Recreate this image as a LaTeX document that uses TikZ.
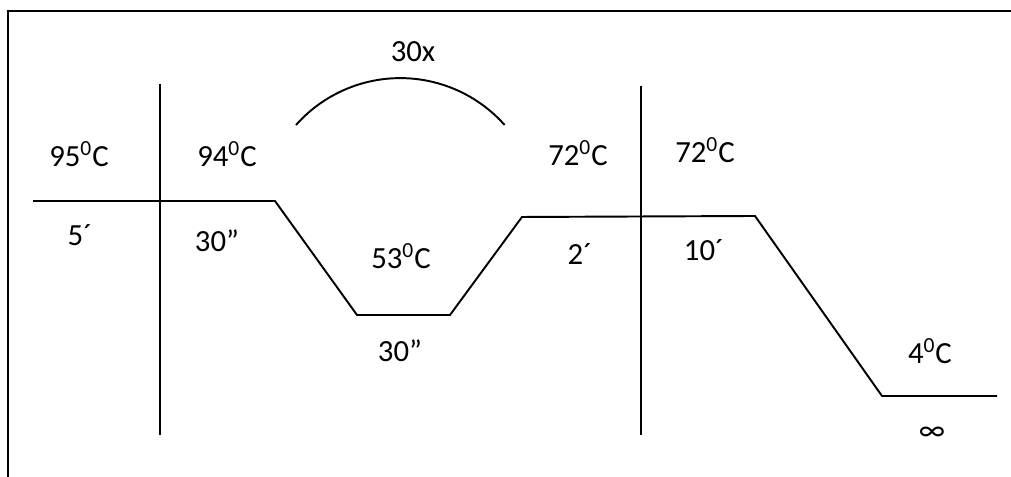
\documentclass[tikz,border=0pt]{standalone}
\usepackage{fontspec}
\setmainfont{Carlito}
\usepackage{tikz}
\usetikzlibrary{calc}
\tikzset{
	labeltext/.style={font=\fontsize{17.5}{21}\selectfont, anchor=base, inner sep=0pt}
}
\tikzset{
	profileline/.style={line width=1.1pt, line join=miter}
}
\newcommand{\degc}[1]{#1\textsuperscript{0}C}

\begin{document}
\begin{tikzpicture}
      \useasboundingbox (0,0) rectangle (20.22,9.54);
      % frame, only top and left edge inside the page
      \draw[line width=1.1pt] (0.16,-0.2) -- (0.16,9.32) -- (20.6,9.32);

      % temperature profile
      \coordinate (p0) at (0.66,5.52);
      \coordinate (p1) at (5.50,5.52);
      \coordinate (p2) at (7.14,3.24);
      \coordinate (p3) at (9.00,3.24);
      \coordinate (p4) at (10.44,5.20);
      \coordinate (p5) at (15.10,5.22);
      \coordinate (p6) at (17.64,1.62);
      \coordinate (p7) at (19.94,1.62);
      \draw[profileline] (p0) -- (p1) -- (p2) -- (p3) -- (p4) -- (p5) -- (p6) -- (p7);

      % separators
      \coordinate (v1top) at (3.2,7.86);
      \coordinate (v1bot) at (3.2,0.84);
      \coordinate (v2top) at (12.82,7.82);
      \coordinate (v2bot) at (12.82,0.84);
      \draw[profileline] (v1top) -- (v1bot);
      \draw[profileline] (v2top) -- (v2bot);

      % cycle arc
      \coordinate (arcstart) at (5.92,7.04);
      \draw[profileline] (arcstart) arc[start angle=138.4, end angle=41.6, radius=2.79];
      \node[labeltext] (cycles) at (8.26,8.30) {30x};

      \node[labeltext] (t95) at (1.58,6.20) {\degc{95}};
      \node[labeltext] (d5) at (1.60,4.62) {5´};
      \node[labeltext] (t94) at (4.54,6.20) {\degc{94}};
      \node[labeltext] (d30a) at (4.34,4.50) {30”};
      \node[labeltext] (t53) at (8.02,4.16) {\degc{53}};
      \node[labeltext] (d30b) at (8.00,2.30) {30”};
      \node[labeltext] (t72a) at (11.56,6.22) {\degc{72}};
      \node[labeltext] (d2) at (11.60,4.24) {2´};
      \node[labeltext] (t72b) at (14.10,6.28) {\degc{72}};
      \node[labeltext] (d10) at (14.08,4.32) {10´};
      \node[labeltext] (t4) at (18.60,2.26) {\degc{4}};
      \node[labeltext] (dinf) at (18.64,0.72) {∞};
    \end{tikzpicture}
\end{document}
